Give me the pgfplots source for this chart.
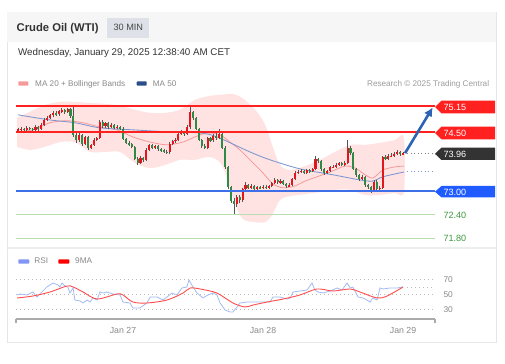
\documentclass[border=0pt]{standalone}
\usepackage{fontspec}
\setmainfont{Liberation Sans}
\usepackage{pgfplots}
\pgfplotsset{compat=1.18}
\usepackage{pgfplotstable}
\usetikzlibrary{arrows.meta}
\definecolor{candleup}{HTML}{E3161E}
\definecolor{candledn}{HTML}{2E8B45}
\definecolor{wick}{HTML}{555555}
\definecolor{lvlred}{HTML}{FF2020}
\definecolor{lvlblue}{HTML}{3F6FE8}
\definecolor{lvlgreen}{HTML}{B8DEB2}
\definecolor{txtgreen}{HTML}{3C9A3C}
\definecolor{ma20}{HTML}{F59A9A}
\definecolor{ma50}{HTML}{7C97D0}
\definecolor{band}{HTML}{FFE2E2}
\definecolor{rsiblue}{HTML}{A3BBF3}
\definecolor{rsired}{HTML}{FF4D4D}
\definecolor{arrowblue}{HTML}{2D63B4}
\definecolor{darkbox}{HTML}{333333}
\definecolor{bluebox}{HTML}{1F5BFF}
\definecolor{cardborder}{HTML}{E6E6E6}
\definecolor{headbg}{HTML}{F6F6F6}
\definecolor{boxbg}{HTML}{DEE2E8}
\definecolor{titlec}{HTML}{333333}
\definecolor{greytxt}{HTML}{8A8A8A}
\definecolor{axisgrey}{HTML}{AAAAAA}
\definecolor{gridc}{HTML}{BBBBBB}
\definecolor{ma50leg}{HTML}{2D4E8C}
\newcommand\fs[1]{\fontsize{#1}{#1}\selectfont}

\pgfplotstableread{
i o h l c
-36 74.52 74.60 74.49 74.56
-35 74.56 74.62 74.53 74.58
-34 74.58 74.61 74.50 74.54
-33 74.54 74.64 74.52 74.60
-32 74.60 74.63 74.54 74.58
-31 74.58 74.61 74.50 74.55
-30 74.55 74.66 74.52 74.62
-29 74.62 74.65 74.52 74.57
-28 74.57 74.72 74.54 74.68
-27 74.68 74.84 74.65 74.80
-26 74.80 74.90 74.77 74.86
-25 74.86 74.96 74.82 74.92
-24 74.92 75.03 74.88 74.98
-23 74.98 75.02 74.90 74.94
-22 74.94 75.06 74.91 75.02
-21 75.02 75.10 74.98 75.06
-20 75.06 75.09 74.96 75.00
-19 75.00 75.11 74.97 75.07
-18 75.07 75.10 74.86 74.90
-17 74.90 75.17 74.38 74.42
-16 74.42 74.48 74.22 74.28
-15 74.28 74.47 74.25 74.42
-14 74.42 74.45 74.15 74.20
-13 74.20 74.40 74.16 74.36
-12 74.36 74.39 74.05 74.10
-11 74.10 74.20 74.07 74.16
-10 74.16 74.34 74.13 74.30
-9 74.30 74.38 74.26 74.34
-8 74.34 74.80 74.31 74.76
-7 74.76 74.79 74.60 74.64
-6 74.64 74.76 74.61 74.72
-5 74.72 74.75 74.58 74.62
-4 74.62 74.72 74.59 74.68
-3 74.68 74.71 74.56 74.60
-2 74.60 74.67 74.57 74.63
-1 74.63 74.66 74.54 74.58
0 74.58 74.61 74.28 74.32
1 74.32 74.35 74.18 74.22
2 74.22 74.26 74.14 74.18
3 74.18 74.21 74.08 74.12
4 74.12 74.15 73.78 73.82
5 73.82 73.86 73.65 73.72
6 73.72 73.88 73.69 73.84
7 73.84 73.87 73.74 73.78
8 73.78 74.08 73.75 74.04
9 74.04 74.20 74.01 74.16
10 74.16 74.19 74.06 74.10
11 74.10 74.17 74.07 74.13
12 74.13 74.16 74.02 74.06
13 74.06 74.09 74.00 74.04
14 74.04 74.07 73.96 74.00
15 74.00 74.03 73.94 73.98
16 73.98 74.24 73.95 74.20
17 74.20 74.30 74.17 74.26
18 74.26 74.34 74.22 74.30
19 74.30 74.49 74.27 74.45
20 74.45 74.54 74.42 74.50
21 74.50 74.53 74.40 74.44
22 74.44 74.66 74.41 74.62
23 74.62 75.13 74.58 75.00
24 75.00 75.04 74.80 74.84
25 74.84 74.87 74.54 74.58
26 74.58 74.61 74.26 74.30
27 74.30 74.33 74.10 74.14
28 74.14 74.18 74.06 74.10
29 74.10 74.38 74.07 74.34
30 74.34 74.37 74.24 74.28
31 74.28 74.44 74.25 74.40
32 74.40 74.46 74.30 74.34
33 74.34 74.56 74.31 74.44
34 74.44 74.47 74.06 74.10
35 74.10 74.13 73.56 73.60
36 73.60 73.63 73.06 73.10
37 73.10 73.13 72.70 72.75
38 72.75 72.82 72.39 72.68
39 72.68 72.90 72.60 72.86
40 72.86 72.89 72.70 72.76
41 72.76 73.08 72.73 73.04
42 73.04 73.22 73.01 73.16
43 73.16 73.19 73.04 73.08
44 73.08 73.17 73.05 73.13
45 73.13 73.16 73.03 73.06
46 73.06 73.13 73.03 73.10
47 73.10 73.13 73.04 73.07
48 73.07 73.14 73.04 73.11
49 73.11 73.14 73.05 73.08
50 73.08 73.15 73.05 73.12
51 73.12 73.24 73.09 73.20
52 73.20 73.32 73.17 73.28
53 73.28 73.31 73.18 73.22
54 73.22 73.30 73.19 73.26
55 73.26 73.29 73.14 73.18
56 73.18 73.21 73.08 73.12
57 73.12 73.19 73.09 73.15
58 73.15 73.34 73.12 73.30
59 73.30 73.50 73.27 73.46
60 73.46 73.52 73.43 73.48
61 73.48 73.55 73.45 73.51
62 73.51 73.54 73.42 73.46
63 73.46 73.56 73.43 73.52
64 73.52 73.55 73.46 73.50
65 73.50 73.59 73.47 73.55
66 73.55 73.90 73.52 73.80
67 73.80 73.84 73.70 73.76
68 73.76 73.79 73.51 73.55
69 73.55 73.58 73.41 73.45
70 73.45 73.54 73.42 73.50
71 73.50 73.64 73.47 73.60
72 73.60 73.66 73.57 73.62
73 73.62 73.70 73.59 73.66
74 73.66 73.74 73.63 73.70
75 73.70 73.73 73.63 73.67
76 73.67 73.76 73.64 73.72
77 73.72 74.30 73.69 74.10
78 74.10 74.13 73.91 73.95
79 73.95 73.98 73.52 73.56
80 73.56 73.59 73.36 73.40
81 73.40 73.43 73.26 73.30
82 73.30 73.40 73.27 73.36
83 73.36 73.39 73.11 73.15
84 73.15 73.18 73.04 73.10
85 73.10 73.13 72.95 73.00
86 73.00 73.28 72.97 73.24
87 73.24 73.27 73.01 73.05
88 73.05 73.12 72.98 73.08
89 73.08 73.90 73.05 73.86
90 73.86 73.92 73.78 73.82
91 73.82 73.94 73.79 73.88
92 73.88 73.96 73.85 73.90
93 73.90 74.00 73.87 73.95
94 73.95 74.03 73.92 73.99
95 73.99 74.02 73.88 73.94
96 73.94 74.00 73.91 73.96
}\candles

\begin{document}
\begin{tikzpicture}
\fill[white] (0,0) rectangle (505bp,364bp);
\begin{scope}[x=1bp,y=-1bp,shift={(0,-364)}]
\draw[draw=cardborder, fill=white, line width=0.8bp] (7,12) rectangle (496,342);
\fill[headbg] (7.4,12.4) rectangle (495.6,42);
\fill[boxbg] (107.3,18.3) rectangle (149.3,37.7);
\node[anchor=base west, inner sep=0, text=titlec, font=\bfseries\fs{11.3}] at (16.5,31.6) {Crude Oil (WTI)};
\node[anchor=base, inner sep=0, text=titlec!90, font=\fs{9.2}] at (128.3,30.8) {30 MIN};
\node[anchor=base west, inner sep=0, text=titlec, font=\fs{9.8}] at (18,55.3) {Wednesday, January 29, 2025 12:38:40 AM CET};
\fill[ma20, rounded corners=0.8] (18.3,81.4) rectangle (28.3,85.6);
\node[anchor=base west, inner sep=0, text=greytxt, font=\fs{8.2}] at (35,86.4) {MA 20 + Bollinger Bands};
\fill[ma50leg, rounded corners=0.8] (136.7,81.4) rectangle (146.7,85.6);
\node[anchor=base west, inner sep=0, text=greytxt, font=\fs{8.2}] at (152.7,86.4) {MA 50};
\node[anchor=base east, inner sep=0, text=greytxt!85, font=\fs{8.2}] at (489.3,86.4) {Research © 2025 Trading Central};
\draw[cardborder!70, line width=1.5bp] (7.4,248) -- (495.6,248);
\fill[rsiblue!80!blue, rounded corners=0.8] (18.3,259.4) rectangle (29.3,263.6);
\node[anchor=base west, inner sep=0, text=greytxt, font=\fs{8.3}] at (34.3,263.4) {RSI};
\fill[red, rounded corners=0.8] (58.3,259.4) rectangle (69.3,263.6);
\node[anchor=base west, inner sep=0, text=greytxt, font=\fs{8.3}] at (75,263.4) {9MA};
\end{scope}

% ---------------- price panel ----------------
\begin{axis}[at={(16bp,119bp)}, anchor=south west, width=419bp, height=155bp, scale only axis,
  axis lines=none, clip=false, xmin=-36.68, xmax=106.96, ymin=71.63, ymax=75.56]
% Bollinger band: upper band left to right, then lower band right to left
\addplot[fill=band, draw=none, smooth, tension=0.5] coordinates {
(-36.3,74.85) (-31.9,75.01) (-26.7,75.18) (-21.6,75.26) (-16.5,75.26) (-11.3,75.23) (-6.2,75.21) (-1.0,75.16) (4.1,75.06) (9.3,74.98) (14.4,74.98) (19.5,75.06) (24.7,75.31) (29.8,75.41) (33.9,75.44) (37.4,75.46) (40.8,75.36) (45.3,75.06) (48.7,74.68) (51.1,74.17) (53.8,73.66) (57.3,73.53) (62.4,73.63) (67.5,73.79) (72.7,73.99) (77.9,74.17) (83.0,74.17) (88.1,74.22) (93.2,74.29) (96.3,74.35)
(96.3,72.97) (93.2,72.95) (88.1,72.90) (83.0,72.90) (77.9,73.03) (72.7,73.03) (67.5,72.97) (62.4,72.92) (57.3,72.87) (53.8,72.77) (51.1,72.39) (48.7,72.21) (45.3,72.21) (40.8,72.31) (37.4,72.90) (33.9,73.66) (29.8,73.86) (24.7,73.79) (19.5,73.79) (14.4,73.66) (9.3,73.58) (4.1,73.71) (-1.0,73.99) (-6.2,73.99) (-11.3,73.99) (-16.5,74.24) (-21.6,74.24) (-26.7,74.12) (-31.9,74.04) (-36.3,74.12)} -- cycle;
% MA 20
\addplot[ma20, line width=0.8bp, smooth, tension=0.5] coordinates {
(-36.3,74.50) (-30.9,74.55) (-25.0,74.73) (-19.2,74.78) (-13.7,74.73) (-7.9,74.62) (-2.1,74.55) (3.4,74.37) (9.3,74.24) (15.1,74.17) (20.6,74.24) (24.0,74.35) (28.8,74.47) (33.3,74.42) (36.7,74.24) (40.1,74.04) (43.5,73.79) (47.7,73.48) (51.4,73.18) (54.9,73.08) (59.0,73.13) (62.4,73.25) (66.5,73.36) (71.0,73.48) (76.1,73.63) (79.6,73.58) (83.0,73.41) (85.7,73.33) (89.1,73.53) (93.2,73.61) (96.3,73.63)};
% MA 50
\addplot[ma50, line width=0.85bp, smooth, tension=0.5] coordinates {
(-36.0,74.93) (-25.0,74.80) (-16.5,74.73) (-7.9,74.60) (3.4,74.55) (15.1,74.50) (26.4,74.47) (32.2,74.37) (43.5,73.99) (50.4,73.79) (60.7,73.56) (72.0,73.41) (81.2,73.28) (85.7,73.25) (89.1,73.36) (96.3,73.48)};
\addplot[ma50, line width=0.8bp, dash pattern=on 1bp off 2.5bp] coordinates {(97.5,73.50) (106.3,73.50)};
% candles: wicks
\addplot[draw=none, mark=none, error bars/.cd, y dir=both, y explicit, error mark=none,
  error bar style={draw=wick, line width=0.6bp}]
  table[x=i, y expr={(\thisrow{h}+\thisrow{l})/2}, y error expr={(\thisrow{h}-\thisrow{l})/2}] {\candles};
% up bodies
\addplot[draw=none, mark=none, error bars/.cd, y dir=both, y explicit, error mark=none,
  error bar style={draw=candleup, line width=2.1bp}]
  table[x=i, y expr={(\thisrow{o}+\thisrow{c})/2}, y error expr={max(\thisrow{c}-\thisrow{o},0)/2}] {\candles};
% down bodies
\addplot[draw=none, mark=none, error bars/.cd, y dir=both, y explicit, error mark=none,
  error bar style={draw=candledn, line width=2.1bp}]
  table[x=i, y expr={(\thisrow{o}+\thisrow{c})/2}, y error expr={max(\thisrow{o}-\thisrow{c},0)/2}] {\candles};
% levels
\addplot[lvlgreen, line width=1.5bp] coordinates {(-36.68,72.40) (106.96,72.40)};
\addplot[lvlgreen, line width=1.5bp] coordinates {(-36.68,71.80) (106.96,71.80)};
\addplot[lvlblue, line width=1.2bp] coordinates {(-36.68,73.00) (106.96,73.00)};
\addplot[lvlred, line width=2.2bp] coordinates {(-36.68,74.50) (106.96,74.50)};
\addplot[lvlred, line width=2.2bp] coordinates {(-36.68,75.15) (106.96,75.15)};
\addplot[gray, line width=0.8bp, dash pattern=on 1bp off 2.5bp] coordinates {(97.5,73.96) (106.3,73.96)};
\addplot[arrowblue, line width=2.6bp, -{Latex[length=9bp,width=9bp]}] coordinates {(96.7,73.96) (106.2,75.12)};
\end{axis}

% ---------------- RSI panel ----------------
\begin{axis}[at={(16bp,45bp)}, anchor=south west, width=419bp, height=49bp, scale only axis,
  clip=false, xmin=-36.68, xmax=106.96, ymin=16.67, ymax=82,
  axis x line*=bottom, axis y line=none,
  x axis line style={-, draw=axisgrey, line width=1.5bp},
  xtick={0,48,96}, xticklabels={Jan 27, Jan 28, Jan 29}, major tick length=0pt,
  xticklabel style={anchor=base, yshift=-14.3bp, text=greytxt, font=\fs{8.8}}, ytick=\empty]
\draw[axisgrey, line width=1.5bp] (rel axis cs:0,0) -- (rel axis cs:1,0);
\draw[axisgrey, line width=1.3bp] (rel axis cs:0,0) -- ([yshift=-3.6bp]rel axis cs:0,0);
\draw[axisgrey, line width=1.3bp] (rel axis cs:1,0) -- ([yshift=-3.6bp]rel axis cs:1,0);
\addplot[gridc, line width=0.8bp, dash pattern=on 1bp off 3bp] coordinates {(-36.68,70) (106.96,70)};
\addplot[gridc, line width=0.8bp, dash pattern=on 1bp off 3bp] coordinates {(-36.68,50) (106.96,50)};
\addplot[gridc, line width=0.8bp, dash pattern=on 1bp off 3bp] coordinates {(-36.68,30) (106.96,30)};
\addplot[gridc, line width=0.8bp, dash pattern=on 1bp off 3bp] coordinates {(97.5,59.3) (106.3,59.3)};
\addplot[rsiblue, line width=0.8bp] coordinates {
(-36.3,48.7) (-35.3,50) (-32.9,48.7) (-30.9,52.7) (-29.5,46) (-27.8,52.7) (-26.1,59.3) (-24.0,64.7) (-22.3,62) (-21.6,59.3) (-20.9,64.7) (-19.9,60.7) (-18.9,59.3) (-18.2,51.3) (-17.1,58) (-16.5,42) (-14.7,40.7) (-13.7,38) (-12.3,42) (-11.3,39.3) (-10.3,44.7) (-8.9,42) (-7.9,52.7) (-6.9,51.3) (-5.5,52.7) (-4.5,51.3) (-3.4,50) (-1.0,48.7) (0,39.3) (2.4,38) (3.4,31.3) (5.8,31.3) (8.2,38) (9.3,46) (11.7,46) (13.7,42) (15.1,46) (16.8,51.3) (18.5,48.7) (20.2,58) (21.9,59.3) (22.6,68.7) (24.0,59.3) (25.4,51.3) (27.4,44.7) (29.1,48.7) (30.9,51.3) (32.2,48.7) (33.3,38) (35.0,28.7) (36.7,26) (37.7,26) (39.1,32.7) (40.1,38) (42.5,39.3) (44.6,39.3) (48.0,39.3) (50.4,39.3) (51.4,46) (53.8,46) (56.2,43.3) (57.3,44.7) (58.3,52.7) (60.7,54) (63.1,55.3) (64.8,64.7) (65.8,55.3) (66.8,52.7) (68.6,51.3) (71.0,54) (73.4,58) (75.1,55.3) (76.8,64.7) (77.9,58) (78.8,59.3) (80.6,46) (82.3,44.7) (83.6,42) (84.7,39.3) (85.7,44.7) (87.1,42) (88.1,58) (89.1,56.7) (91.5,58) (93.9,58) (96.0,59.3)};
\addplot[rsired, line width=0.9bp, smooth, tension=0.5] coordinates {
(-36.3,44.7) (-30.9,47.3) (-25.0,52.7) (-19.2,60.7) (-17.1,59.3) (-13.7,52.7) (-8.9,43.3) (-2.1,50) (0,48.7) (3.4,39.3) (8.2,38) (15.1,42) (20.6,51.3) (23.0,58) (26.4,56.7) (32.2,51.3) (37.7,38) (41.8,32.7) (44.6,35.3) (49.4,39.3) (54.9,43.3) (60.7,48.7) (66.5,56.7) (72.0,54) (77.9,56.7) (81.2,52.7) (87.1,44.7) (90.5,47.3) (96.0,59.3)};
\end{axis}

% ---------------- right-hand labels ----------------
\begin{scope}[x=1bp,y=-1bp,shift={(0,-364)}]
\fill[lvlred] (435,107) -- (441.5,100.7) -- (495,100.7) -- (495,113.3) -- (441.5,113.3) -- cycle;
\node[anchor=base west, inner sep=0, text=white, font=\fs{9.1}] at (443.3,110.4) {75.15};
\fill[lvlred] (435,133) -- (441.5,126.7) -- (495,126.7) -- (495,139.3) -- (441.5,139.3) -- cycle;
\node[anchor=base west, inner sep=0, text=white, font=\fs{9.1}] at (443.3,136.4) {74.50};
\fill[darkbox] (435,153.8) -- (441.5,147.6) -- (495,147.6) -- (495,160) -- (441.5,160) -- cycle;
\node[anchor=base west, inner sep=0, text=white, font=\fs{9.1}] at (443.3,157.2) {73.96};
\fill[bluebox] (435,191.7) -- (441.5,186) -- (495,186) -- (495,197.4) -- (441.5,197.4) -- cycle;
\node[anchor=base west, inner sep=0, text=white, font=\fs{9.1}] at (443.3,195) {73.00};
\node[anchor=base west, inner sep=0, text=txtgreen, font=\fs{9.1}] at (443.3,218) {72.40};
\node[anchor=base west, inner sep=0, text=txtgreen, font=\fs{9.1}] at (443.3,241.6) {71.80};
\node[anchor=base west, inner sep=0, text=greytxt, font=\fs{8.4}] at (443.3,282) {70};
\node[anchor=base west, inner sep=0, text=greytxt, font=\fs{8.4}] at (443.3,297) {50};
\node[anchor=base west, inner sep=0, text=greytxt, font=\fs{8.4}] at (443.3,312) {30};
\end{scope}
\pgfresetboundingbox
\path[use as bounding box] (0,0) rectangle (505bp,364bp);
\end{tikzpicture}
\end{document}
